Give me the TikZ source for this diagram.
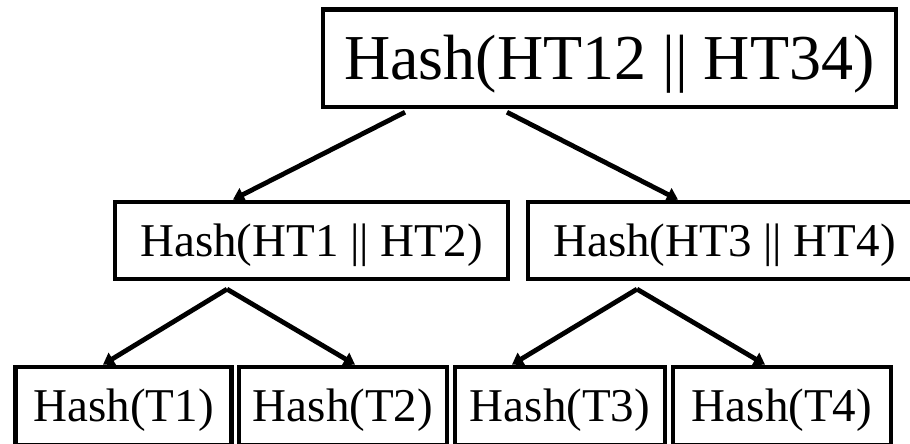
\documentclass[tikz,border=0pt]{standalone}
\usepackage{fontspec}
\setmainfont{Liberation Serif}
\usetikzlibrary{arrows.meta}
\begin{document}
\begin{tikzpicture}[x=1pt,y=-1pt,
  hbox/.style={draw, line width=4.8pt, rectangle, inner sep=0pt,
    text depth=0pt, align=center},
  bigtxt/.style={font=\fontsize{64}{70}\selectfont, text height=42pt},
  midtxt/.style={font=\fontsize{47}{52}\selectfont, text height=31pt},
  arr/.style={line width=4.8pt, -{Triangle[length=11pt,width=14pt]}}]
\useasboundingbox (0,0) rectangle (910,444);
\node[hbox,bigtxt,minimum width=573pt,minimum height=97.5pt] (top) at (609.4,58.3) {Hash(HT12 || HT34)};
\node[hbox,midtxt,minimum width=393pt,minimum height=77pt] (ml) at (311.5,240.5) {Hash(HT1 || HT2)};
\node[hbox,midtxt,minimum width=393pt,minimum height=77pt] (mr) at (724.5,240.5) {Hash(HT3 || HT4)};
\node[hbox,midtxt,minimum width=216pt,minimum height=78pt] (b1) at (123.7,406) {Hash(T1)};
\node[hbox,midtxt,minimum width=208pt,minimum height=78pt] (b2) at (343,406) {Hash(T2)};
\node[hbox,midtxt,minimum width=210pt,minimum height=78pt] (b3) at (560,406) {Hash(T3)};
\node[hbox,midtxt,minimum width=218pt,minimum height=78pt] (b4) at (782,406) {Hash(T4)};
\coordinate (sL) at ([xshift=-204.4pt,yshift=-2.75pt]top.south);
\coordinate (sR) at ([xshift=-102.4pt,yshift=-2.75pt]top.south);
\coordinate (apL) at ([xshift=-84.5pt,yshift=-7.75pt]ml.south);
\coordinate (apR) at ([xshift=-87.5pt,yshift=-7.75pt]mr.south);
\draw[arr] (sL) -- ([xshift=-78.5pt]ml.north);
\draw[arr] (sR) -- ([xshift=-46.5pt]mr.north);
\draw[arr] (apL) -- ([xshift=-20.7pt]b1.north);
\draw[arr] (apL) -- ([xshift=12pt]b2.north);
\draw[arr] (apR) -- ([xshift=-48pt]b3.north);
\draw[arr] (apR) -- ([xshift=-17pt]b4.north);
\end{tikzpicture}
\end{document}
